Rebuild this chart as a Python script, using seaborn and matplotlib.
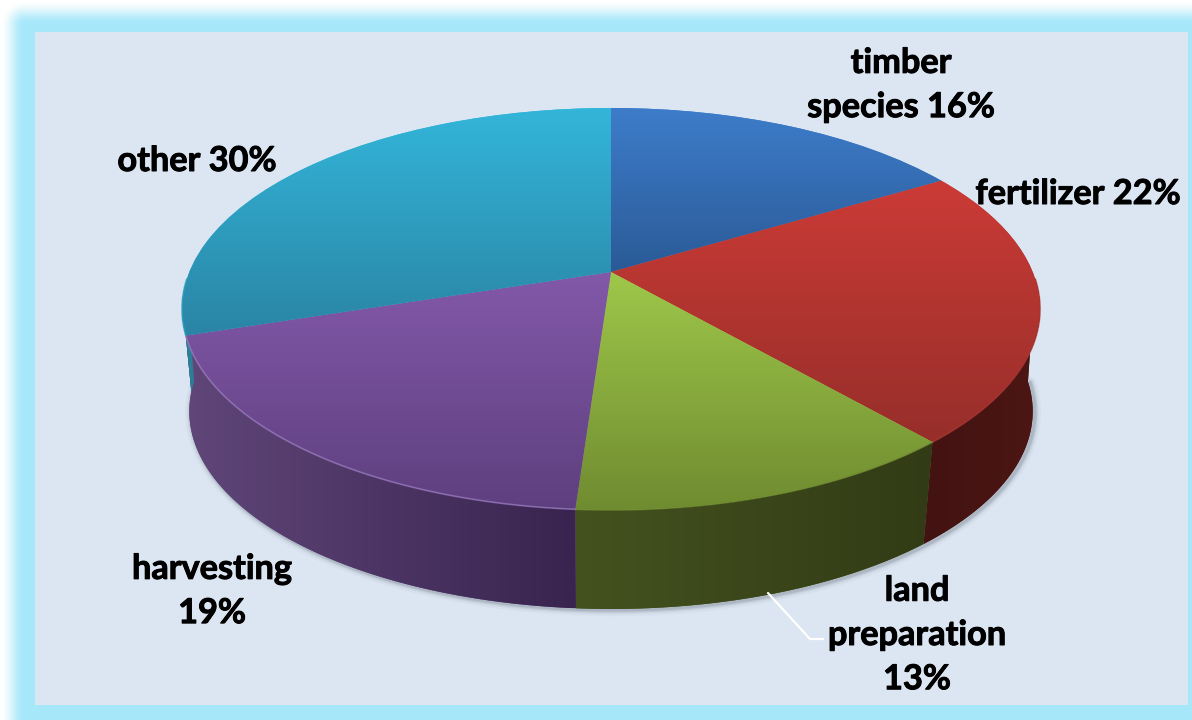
import numpy as np
import matplotlib
matplotlib.use("Agg")
import matplotlib.pyplot as plt
import matplotlib.transforms as mtransforms
import matplotlib.patheffects as pe
from matplotlib.patches import Polygon, Rectangle
import seaborn as sns

# ---- data ----
categories = ["timber species", "fertilizer", "land preparation", "harvesting", "other"]
shares = [16.4, 22.2, 12.5, 18.9, 30.0]
labels = ["timber\nspecies 16%", "fertilizer 22%", "land\npreparation\n13%", "harvesting\n19%", "other 30%"]
label_xy = [(901, 85), (1078, 194), (917, 635), (212, 591), (197, 161)]
top_colors = [("#3E7DCB", "#2A5A96"), ("#CC3B36", "#962E2A"), ("#9FC84A", "#6F8B30"),
              ("#8359AA", "#5E3F7E"), ("#33B6DA", "#2A84A4")]
wall_colors = [("#2A5A96", "#2A5A96"), ("#431311", "#4C1614"), ("#44521F", "#323B15"),
               ("#604679", "#38244F"), ("#2B7F98", "#2B7F98")]
rim_colors = ["#3E7DCB", "#A83431", "#6F8B30", "#9A7CC0", "#2F9FBE"]
# how far each slice boundary leans along the wall, degrees
wall_lean = [0, 0, 0.6, 0, 13.0, 0]

W, H = 1192, 720
sns.set_theme(style="white")
plt.rcParams["font.family"] = ["Lato", "DejaVu Sans"]


class Perspective(mtransforms.Transform):
    """Maps the unit pie disc to the tilted disc, in pixel-like axes units."""
    input_dims = output_dims = 2

    def __init__(self, cx, cy, a, b, k):
        super().__init__()
        self.p = (cx, cy, a, b, k)

    def transform_non_affine(self, pts):
        cx, cy, a, b, k = self.p
        pts = np.asarray(pts, float)
        w = 1 + k * pts[:, 1]
        return np.column_stack([cx + a * pts[:, 0] / w, cy - b * pts[:, 1] / w])


top = Perspective(611, 272, 421.7, 194.2, 0.184)
bottom = Perspective(611, 375, 414.5, 190.9, 0.184)

fig = plt.figure(figsize=(W / 100, H / 100), dpi=100)
ax = fig.add_axes([0, 0, 1, 1])

# pie on the unit disc, then projected
wedges, _ = ax.pie(shares, startangle=90, counterclock=False, radius=1, center=(0, 0),
                   colors=[c[0] for c in top_colors])
ax.set_aspect("auto")
ax.axis("off")

# glow frame and panel
yy, xx = np.mgrid[0:H, 0:W]
dist = np.hypot(np.clip(24 - xx, 0, None), np.clip(24 - yy, 0, None)) / 24
fade = np.clip(1 - dist, 0, 1)
fade = fade * fade * (3 - 2 * fade)
glow = sns.blend_palette(["#FFFFFF", "#A6E8FA"], 256, as_cmap=True)
ax.imshow(fade, cmap=glow, vmin=0, vmax=1, extent=(0, W, H, 0), origin="upper",
          aspect="auto", zorder=0)
ax.add_patch(Rectangle((35, 32), 1153, 673, facecolor="#DCE6F2", edgecolor="none", zorder=1))

# pie angles from the data (clockwise from the top)
edges = np.concatenate([[0], np.cumsum(shares)]) / np.sum(shares) * 2 * np.pi
edges_low = edges + np.radians(wall_lean)


def disc(th):
    return np.column_stack([np.sin(th), np.cos(th)])


vis0, vis1 = np.radians(92), np.radians(268)

# soft shadow under the wall
th = np.linspace(vis0, vis1, 200)
edge = bottom.transform_non_affine(disc(th))
for lw, al in [(9, 0.04), (6, 0.07), (4, 0.10), (2.5, 0.14)]:
    ax.plot(edge[:, 0] + 2, edge[:, 1] + 1, color="#4A5560", lw=lw, alpha=al, zorder=2,
            solid_capstyle="round")

# side wall
ramp = np.linspace(0, 1, 256)
for i in range(len(shares)):
    a0, a1 = max(edges[i], vis0), min(edges[i + 1], vis1)
    b0, b1 = max(edges_low[i], vis0), min(edges_low[i + 1], vis1)
    if a1 <= a0:
        continue
    p_top = top.transform_non_affine(disc(np.linspace(a0, a1, 120)))
    p_bot = bottom.transform_non_affine(disc(np.linspace(b0, b1, 120)))
    poly = np.vstack([p_top, p_bot[::-1]])
    patch = Polygon(poly, closed=True, facecolor=wall_colors[i][0], edgecolor="none", zorder=3)
    ax.add_patch(patch)
    cmap = sns.blend_palette(list(wall_colors[i]), 64, as_cmap=True)
    x0, x1 = poly[:, 0].min(), poly[:, 0].max()
    # colours are listed left to right
    im = ax.imshow(ramp[None, :], cmap=cmap, extent=(x0, x1, poly[:, 1].max(), poly[:, 1].min()),
                   origin="upper", aspect="auto", zorder=3.1)
    im.set_clip_path(patch)

# top face
for i, wedge in enumerate(wedges):
    wedge.set_transform(top + ax.transData)
    wedge.set_zorder(4)
    wedge.set_edgecolor("none")
    th = np.linspace(edges[i], edges[i + 1], 120)
    pts = np.vstack([top.transform_non_affine(disc(th)), top.transform_non_affine(np.zeros((1, 2)))])
    cmap = sns.blend_palette(list(top_colors[i]), 128, as_cmap=True)
    im = ax.imshow(ramp[:, None], cmap=cmap,
                   extent=(pts[:, 0].min() - 2, pts[:, 0].max() + 2, pts[:, 1].max() + 2, pts[:, 1].min() - 2),
                   origin="upper", aspect="auto", zorder=4.1)
    im.set_clip_path(wedge)
    # rim on the front edge
    a0, a1 = max(edges[i], vis0), min(edges[i + 1], vis1)
    if a1 > a0:
        rim = top.transform_non_affine(disc(np.linspace(a0, a1, 120)))
        ax.plot(rim[:, 0], rim[:, 1], color=rim_colors[i], lw=1.2, alpha=0.7, zorder=4.2)

# leader line for "land preparation"
ax.plot([768, 810, 823], [593, 639, 639], color="#FFFFFF", lw=1.6, zorder=5)

# labels
for (x, y), txt in zip(label_xy, labels):
    t = ax.text(x, y, txt, ha="center", va="center", fontsize=24.7, fontweight="bold",
                color="#000000", linespacing=1.47, zorder=6)
    t.set_path_effects([pe.withStroke(linewidth=0.7, foreground="#000000")])

ax.set_xlim(0, W)
ax.set_ylim(H, 0)
fig.savefig("out.png", dpi=100)
